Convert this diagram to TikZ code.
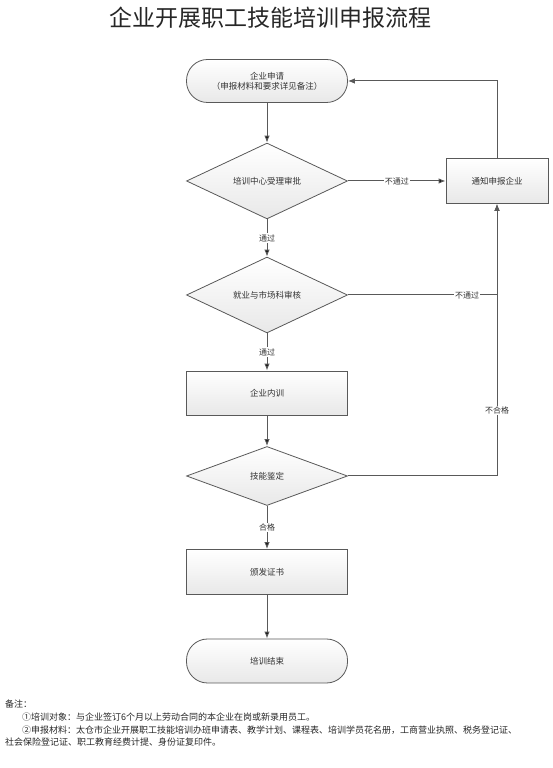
\documentclass[tikz,border=0pt]{standalone}
\usepackage{fontspec}
\newfontfamily\cjk{Noto Sans CJK SC}
\usetikzlibrary{shapes.geometric,arrows,arrows.meta,positioning}

\begin{document}
\begin{tikzpicture}[x=1pt,y=1pt,font=\cjk\fontsize{8.5}{10}\selectfont]
    \tikzstyle{block}=[draw=black!65,line width=0.8pt,top color=white,bottom color=gray!18,text=black!80,inner sep=0pt,align=center]
    \tikzstyle{terminal}=[block,rectangle,rounded corners=21pt,minimum width=161pt,minimum height=43pt]
    \tikzstyle{process}=[block,rectangle,minimum width=161pt,minimum height=45pt]
    \tikzstyle{decision}=[block,diamond,minimum width=161pt,minimum height=58pt]
    \tikzstyle{edge}=[->,>={Latex[length=7pt,width=5.5pt]},draw=black!65,line width=1pt]
    \tikzstyle{annot}=[midway,fill=white,inner sep=1pt,font=\cjk\fontsize{8}{9}\selectfont,text=black!80]
    \tikzstyle{note}=[anchor=west,inner sep=0pt,font=\cjk\fontsize{9}{11}\selectfont,text=black!85]

    \useasboundingbox (0,0) rectangle (552,768);

    \node[font=\cjk\fontsize{23}{26}\selectfont,text=black!85] (title) at (270,750) {企业开展职工技能培训申报流程};

    \node[terminal] (apply) at (267,687) {企业申请\\（申报材料和要求详见备注）};
    \node[decision] (centre) at (267,587) {培训中心受理审批};
    \node[process, minimum width=102pt] (notify) at (497,587) {通知申报企业};
    \node[decision] (market) at (267,473) {就业与市场科审核};
    \node[process, minimum height=44pt] (train) at (267,375) {企业内训};
    \node[decision, minimum height=59pt] (assess) at (267,292) {技能鉴定};
    \node[process] (cert) at (267,196) {颁发证书};
    \node[terminal, minimum height=44pt] (finish) at (267,107) {培训结束};

    \draw[edge] (apply) edge (centre);
    \draw[edge] (centre) edge node [annot] {通过} (market);
    \draw[edge] (market) edge node [annot] {通过} (train);
    \draw[edge] (train) edge (assess);
    \draw[edge] (assess) edge node [annot] {合格} (cert);
    \draw[edge] (cert) edge (finish);

    \draw[edge] (centre) edge node [annot] {不通过} (notify);
    \draw[edge] (market.east) -| node [annot, pos=0.4] {不通过} (notify.south);
    \draw[edge] (assess.east) -| node [annot, pos=0.62] {不合格} (notify.south);
    \draw[edge] (notify.north) |- (apply.east);

    % notes
    \node[note] (n0) at (5,64) {备注：};
    \node[note] (n1) at (22,51) {①培训对象：与企业签订6个月以上劳动合同的本企业在岗或新录用员工。};
    \node[note] (n2) at (22,38) {②申报材料：太仓市企业开展职工技能培训办班申请表、教学计划、课程表、培训学员花名册，工商营业执照、税务登记证、};
    \node[note] (n3) at (5,26) {社会保险登记证、职工教育经费计提、身份证复印件。};
\end{tikzpicture}
\end{document}
